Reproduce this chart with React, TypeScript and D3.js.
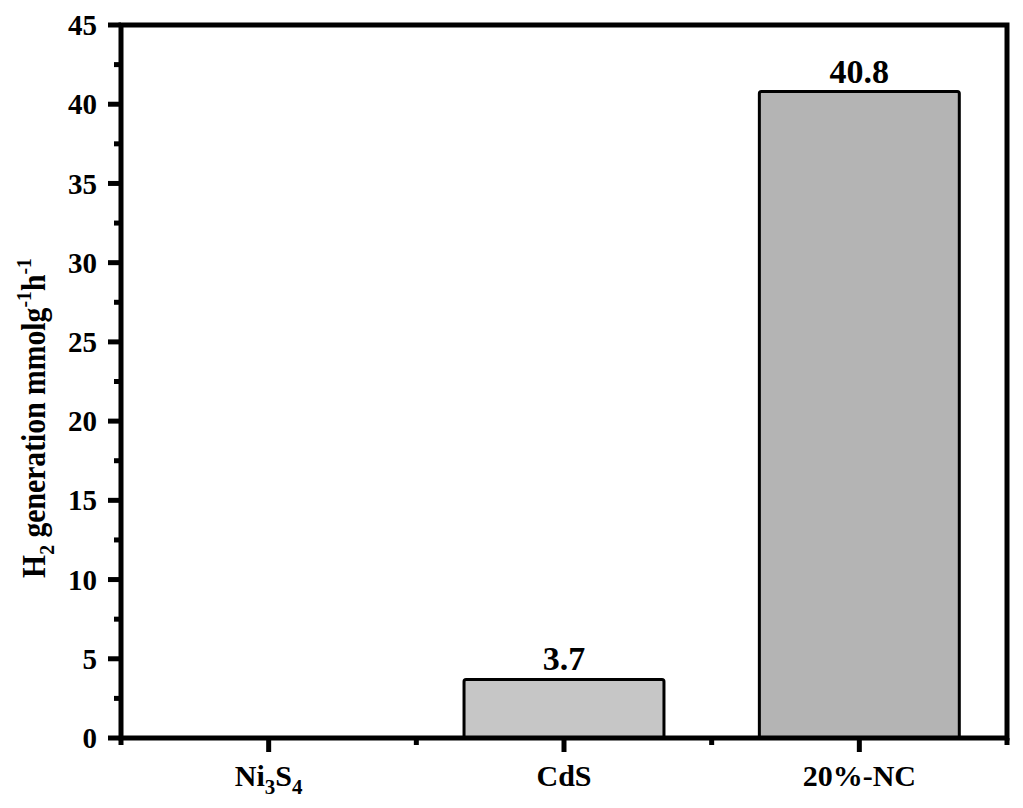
import React from "react";
import * as d3 from "d3";

const categories = ["Ni3S4", "CdS", "20%-NC"];
const values = [0, 3.7, 40.8];
const valueLabels = ["", "3.7", "40.8"];
const barFills = ["#c6c6c6", "#c6c6c6", "#b4b4b4"];
const yMajorTicks = [0, 5, 10, 15, 20, 25, 30, 35, 40, 45];
const yMinorTicks = [2.5, 7.5, 12.5, 17.5, 22.5, 27.5, 32.5, 37.5, 42.5];

const W = 1023;
const H = 808;
const left = 121;
const right = 1007;
const top = 25;
const bottom = 738;
const FONT = "'Liberation Serif', 'Times New Roman', serif";

export default function App() {
  const x = d3.scaleBand<string>().domain(categories).range([left, right]).padding(0);
  const y = d3.scaleLinear().domain([0, 45]).range([bottom, top]);
  const bw = x.bandwidth() * 0.677;
  const minorX = [left, ...categories.slice(1).map((c) => x(c)!), right];

  const catLabel = (c: string) => {
    if (c === "Ni3S4") {
      return (
        <>
          <tspan>Ni</tspan>
          <tspan fontSize={21} dy={8}>3</tspan>
          <tspan dy={-8}>S</tspan>
          <tspan fontSize={21} dy={8}>4</tspan>
        </>
      );
    }
    return c;
  };

  return (
    <svg width={W} height={H} style={{ position: "absolute", left: 0, top: 0, background: "#fff" }}>
      {/* bars */}
      {categories.map((c, i) =>
        values[i] > 0 ? (
          <rect
            key={c}
            x={x(c)! + x.bandwidth() / 2 - bw / 2}
            y={y(values[i])}
            width={bw}
            height={y(0) - y(values[i])}
            fill={barFills[i]}
            stroke="#000"
            strokeWidth={3}
            rx={2}
          />
        ) : null
      )}
      {/* value labels */}
      {categories.map((c, i) =>
        valueLabels[i] ? (
          <text
            key={c + "v"}
            x={x(c)! + x.bandwidth() / 2}
            y={y(values[i]) - 9}
            textAnchor="middle"
            fontFamily={FONT}
            fontWeight="bold"
            fontSize={34}
          >
            {valueLabels[i]}
          </text>
        ) : null
      )}
      {/* frame */}
      <rect x={left} y={top} width={right - left} height={bottom - top} fill="none" stroke="#000" strokeWidth={5} />
      {/* y ticks */}
      {yMajorTicks.map((t) => (
        <g key={"ym" + t}>
          <line x1={left - 13} x2={left} y1={y(t)} y2={y(t)} stroke="#000" strokeWidth={5} />
          <text
            x={97}
            y={y(t)}
            dy="0.35em"
            textAnchor="end"
            fontFamily={FONT}
            fontWeight="bold"
            fontSize={29}
          >
            {t}
          </text>
        </g>
      ))}
      {yMinorTicks.map((t) => (
        <line key={"yn" + t} x1={left - 7} x2={left} y1={y(t)} y2={y(t)} stroke="#000" strokeWidth={5} />
      ))}
      {/* x ticks */}
      {categories.map((c) => {
        const cx = x(c)! + x.bandwidth() / 2;
        return (
          <g key={"xm" + c}>
            <line x1={cx} x2={cx} y1={bottom} y2={bottom + 14} stroke="#000" strokeWidth={5} />
            <text x={cx} y={786} textAnchor="middle" fontFamily={FONT} fontWeight="bold" fontSize={30}>
              {catLabel(c)}
            </text>
          </g>
        );
      })}
      {minorX.map((v, i) => (
        <line key={"xn" + i} x1={v} x2={v} y1={bottom} y2={bottom + 7} stroke="#000" strokeWidth={5} />
      ))}
      {/* y title */}
      <text
        transform={`translate(45, 418) rotate(-90) scale(0.9, 1)`}
        textAnchor="middle"
        fontFamily={FONT}
        fontWeight="bold"
        fontSize={33}
      >
        <tspan>H</tspan>
        <tspan fontSize={22} dy={9}>2</tspan>
        <tspan dy={-9}> generation mmolg</tspan>
        <tspan fontSize={22} dy={-14}>-1</tspan>
        <tspan dy={14}>h</tspan>
        <tspan fontSize={22} dy={-14}>-1</tspan>
      </text>
    </svg>
  );
}
